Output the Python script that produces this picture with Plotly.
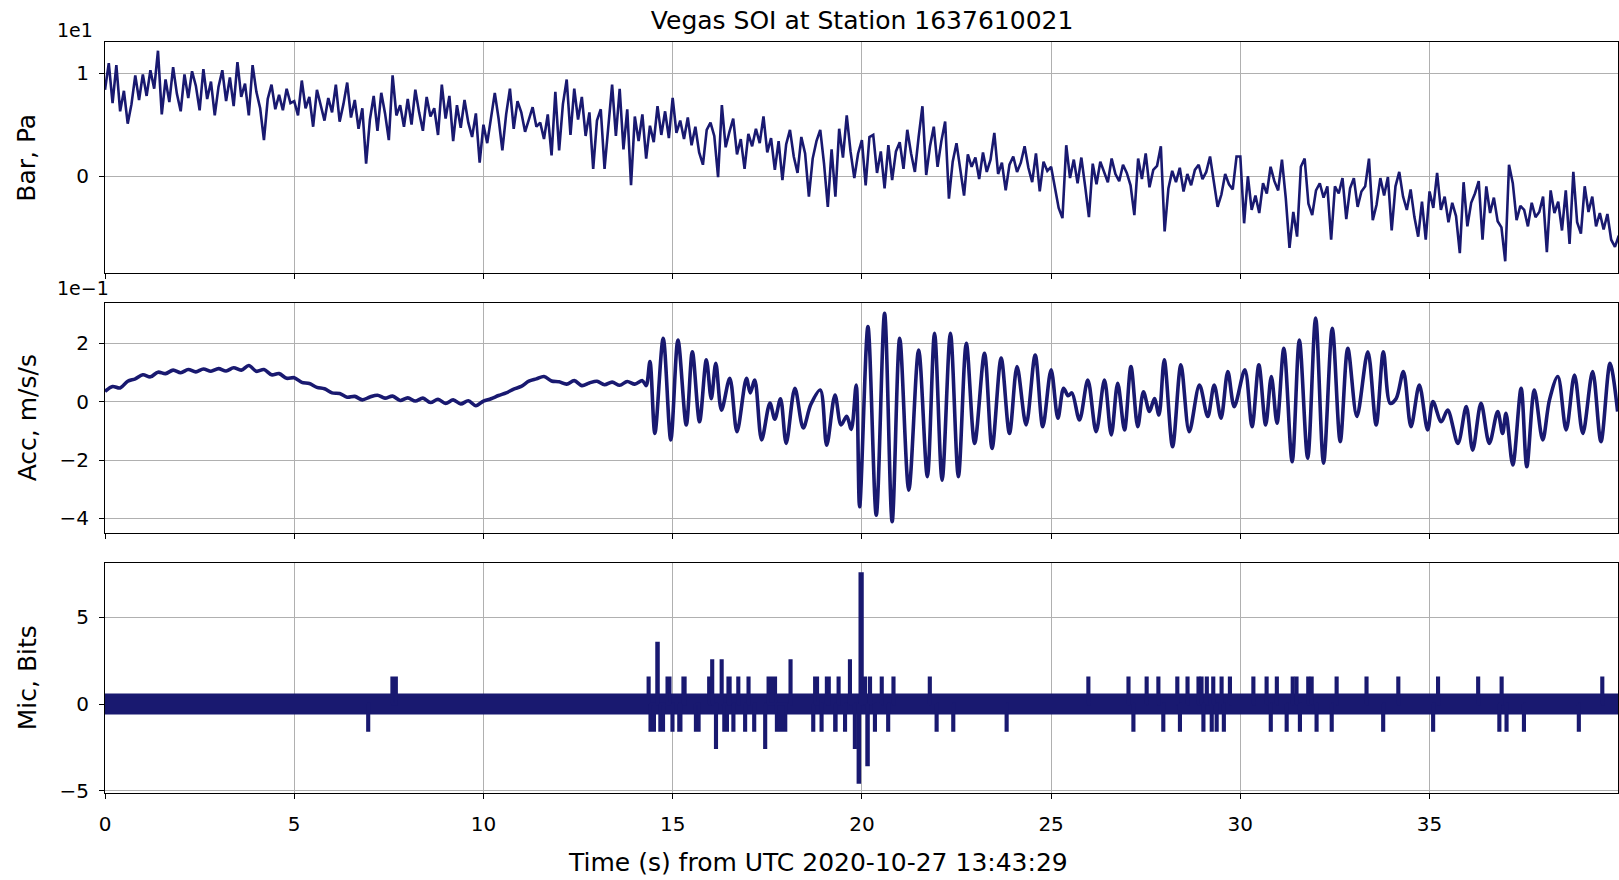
import plotly.graph_objects as go

NAVY = "#191970"
FONT = "DejaVu Sans"

# ---------------- data ----------------
# Barometer, Pa, sampled every 0.1 s from t = 0
bar_dt = 0.1
bar_pa = [
    8.4, 11.0, 7.1, 10.8, 6.3, 8.3, 5.1, 7.0, 9.8, 7.4,
    9.9, 7.8, 10.3, 8.5, 12.2, 6.0, 9.4, 7.2, 10.6, 8.0,
    6.3, 9.9, 7.6, 10.2, 8.8, 6.4, 10.4, 7.5, 9.2, 5.9,
    8.7, 10.3, 7.3, 9.6, 6.8, 11.1, 7.7, 9.0, 5.9, 10.8,
    8.2, 6.6, 3.5, 7.5, 8.9, 6.5, 7.9, 6.4, 8.5, 7.1,
    7.3, 5.9, 9.3, 6.6, 7.7, 4.8, 8.4, 6.9, 5.4, 7.6,
    6.2, 8.9, 5.3, 7.0, 9.1, 5.7, 7.4, 4.6, 6.6, 1.2,
    5.5, 7.8, 4.4, 8.1, 6.1, 3.5, 9.8, 5.9, 6.9, 4.8,
    7.5, 5.0, 8.4, 6.2, 4.4, 7.7, 5.8, 6.6, 4.0, 8.9,
    5.6, 7.8, 3.4, 6.9, 4.7, 7.4, 5.2, 3.8, 6.1, 1.3,
    5.0, 3.2, 5.8, 8.1, 5.6, 2.5, 6.0, 8.5, 4.6, 7.3,
    6.2, 4.3, 5.5, 6.7, 4.8, 5.2, 3.6, 6.0, 2.0, 8.2,
    2.5, 7.0, 9.4, 4.0, 8.5, 5.5, 7.7, 3.9, 6.2, 0.7,
    5.4, 6.5, 0.7, 4.6, 8.9, 3.9, 8.5, 2.6, 6.5, -0.9,
    5.8, 3.4, 6.0, 1.7, 4.9, 3.3, 6.8, 4.0, 6.3, 3.7,
    7.6, 4.2, 5.4, 3.6, 5.7, 3.0, 4.8, 2.3, 1.1, 4.5,
    5.2, 3.9, -0.1, 6.9, 2.8, 4.3, 5.6, 2.1, 3.6, 0.7,
    4.1, 2.9, 4.6, 3.2, 5.8, 2.3, 3.7, 0.6, 3.4, -0.4,
    3.1, 4.5, 1.9, 0.3, 3.8, 2.2, -2.0, 1.7, 3.4, 4.5,
    1.2, -3.0, 2.6, -2.0, 4.6, 1.8, 5.9, 2.4, -0.2, 2.2,
    3.5, -0.9, 3.8, 4.0, 0.3, 2.4, -1.2, 3.0, -0.4, 2.4,
    3.3, 0.7, 4.5, 2.2, 0.4, 3.8, 6.8, 0.1, 2.9, 4.8,
    0.9, 3.4, 5.3, -2.2, 1.4, 3.2, 0.6, -1.9, 2.1, 0.9,
    1.8, -0.3, 2.3, 0.4, 1.6, 4.2, 0.2, 1.3, -1.4, 1.1,
    1.9, 0.4, 1.3, 2.9, 0.8, -0.6, 2.2, -1.5, 1.4, 0.5,
    0.9, -1.2, -3.1, -4.1, 3.0, -0.2, 1.6, -0.7, 1.8, -1.0,
    -4.0, 1.2, -0.8, 1.4, 0.3, -0.6, 1.7, 0.2, -0.5, 1.1,
    0.3, -0.9, -3.8, 1.7, -0.3, 2.2, -1.1, 0.6, 1.0, 2.9,
    -5.4, -1.2, 0.5, -0.6, 0.8, -1.5, 0.2, -0.9, 0.6, 1.1,
    -0.3, 0.4, 1.9, -0.5, -3.0, -1.8, 0.2, -0.8, -1.3, 1.9,
    1.9, -4.6, 0.0, -3.3, -1.9, -3.6, -0.7, -1.7, 0.9, -0.5,
    -1.4, 1.6, -2.1, -7.0, -3.5, -5.9, 0.9, 1.7, -2.7, -3.8,
    -1.4, -0.7, -2.1, -1.0, -6.2, -1.0, -1.7, -0.2, -4.2, -1.2,
    -0.2, -3.0, -1.5, -1.0, 1.7, -4.3, -2.8, -0.2, -1.9, -0.1,
    -5.3, -1.0, 0.4, -2.0, -3.3, -1.3, -4.0, -5.9, -2.5, -6.2,
    -1.5, -3.1, 0.3, -3.3, -2.0, -4.5, -2.6, -3.9, -7.5, -0.6,
    -4.9, -2.6, -1.7, -0.5, -6.2, -1.0, -3.6, -2.1, -4.4, -5.0,
    -8.3, 1.1, -0.7, -4.3, -2.9, -3.3, -4.9, -2.6, -4.0, -3.5,
    -2.0, -7.4, -1.4, -3.6, -2.5, -5.3, -1.4, -6.6, 0.4, -4.5,
    -5.6, -1.0, -3.5, -2.0, -4.9, -3.6, -5.2, -3.7, -6.2, -6.9,
    -5.8,
]
bar_t = [i * bar_dt for i in range(len(bar_pa))]

# Accelerometer, m/s/s (times in s)
acc_t = [
    0.0, 0.2, 0.4, 0.6, 0.8, 1.0, 1.2, 1.4, 1.6, 1.8,
    2.0, 2.2, 2.4, 2.6, 2.8, 3.0, 3.2, 3.4, 3.6, 3.8,
    4.0, 4.2, 4.4, 4.6, 4.8, 5.0, 5.2, 5.4, 5.6, 5.8,
    6.0, 6.2, 6.4, 6.6, 6.8, 7.0, 7.2, 7.4, 7.6, 7.8,
    8.0, 8.2, 8.4, 8.6, 8.8, 9.0, 9.2, 9.4, 9.6, 9.8,
    10.0, 10.2, 10.4, 10.6, 10.8, 11.0, 11.2, 11.4, 11.6, 11.8,
    12.0, 12.2, 12.4, 12.6, 12.8, 13.0, 13.2, 13.4, 13.6, 13.8,
    14.0, 14.2,
    14.30, 14.40, 14.53, 14.75, 14.95, 15.14, 15.36, 15.52, 15.71, 15.89,
    16.02, 16.14, 16.29, 16.51, 16.70, 16.95, 17.05, 17.17, 17.35, 17.57,
    17.70, 17.85, 18.00, 18.23, 18.45, 18.65, 18.90, 19.07, 19.29, 19.45,
    19.60, 19.72, 19.85, 19.94, 20.16, 20.38, 20.60, 20.80, 21.00, 21.24,
    21.50, 21.73, 21.92, 22.12, 22.34, 22.55, 22.76, 22.98, 23.24, 23.44,
    23.68, 23.90, 24.10, 24.34, 24.58, 24.78, 25.00, 25.18, 25.33, 25.45,
    25.55, 25.75, 25.97, 26.19, 26.41, 26.59, 26.76, 26.94, 27.11, 27.29,
    27.44, 27.60, 27.73, 27.85, 27.99, 28.21, 28.43, 28.65, 28.92, 29.14,
    29.31, 29.49, 29.67, 29.84, 30.12, 30.31, 30.49, 30.67, 30.82, 30.97,
    31.15, 31.37, 31.56, 31.78, 31.99, 32.20, 32.43, 32.64, 32.84, 33.08,
    33.37, 33.59, 33.78, 33.96, 34.12, 34.31, 34.51, 34.73, 34.95, 35.09,
    35.31, 35.48, 35.75, 35.97, 36.14, 36.36, 36.58, 36.80, 36.93, 37.02,
    37.20, 37.42, 37.57, 37.77, 37.99, 38.17, 38.39, 38.61, 38.83, 39.05,
    39.31, 39.53, 39.77, 39.97,
]
acc_ms2 = [
    0.035, 0.052, 0.047, 0.070, 0.078, 0.092, 0.085, 0.101, 0.096, 0.108,
    0.099, 0.110, 0.102, 0.112, 0.104, 0.113, 0.105, 0.116, 0.108, 0.124,
    0.104, 0.110, 0.092, 0.096, 0.080, 0.082, 0.066, 0.062, 0.049, 0.044,
    0.030, 0.028, 0.015, 0.018, 0.006, 0.016, 0.022, 0.012, 0.019, 0.004,
    0.013, 0.002, 0.012, -0.003, 0.008, -0.006, 0.006, -0.008, 0.003, -0.014,
    0.002, 0.010, 0.021, 0.030, 0.043, 0.052, 0.070, 0.078, 0.086, 0.071,
    0.068, 0.060, 0.072, 0.055, 0.064, 0.070, 0.058, 0.067, 0.056, 0.069,
    0.060, 0.072,
    0.055, 0.137, -0.109, 0.217, -0.131, 0.211, -0.080, 0.171, -0.069, 0.143,
    0.010, 0.131, -0.029, 0.080, -0.103, 0.080, 0.030, 0.074, -0.131, -0.005,
    -0.060, 0.010, -0.143, 0.046, -0.090, -0.010, 0.040, -0.149, 0.023, -0.080,
    -0.050, -0.095, 0.057, -0.360, 0.257, -0.389, 0.303, -0.411, 0.217, -0.303,
    0.177, -0.257, 0.234, -0.269, 0.234, -0.257, 0.200, -0.143, 0.166, -0.160,
    0.149, -0.109, 0.120, -0.080, 0.160, -0.086, 0.109, -0.057, 0.046, 0.020,
    0.030, -0.063, 0.074, -0.103, 0.074, -0.114, 0.063, -0.097, 0.120, -0.086,
    0.034, -0.034, 0.011, -0.046, 0.143, -0.154, 0.126, -0.103, 0.057, -0.051,
    0.057, -0.057, 0.103, -0.017, 0.109, -0.086, 0.126, -0.080, 0.086, -0.074,
    0.183, -0.206, 0.211, -0.194, 0.286, -0.211, 0.251, -0.137, 0.183, -0.051,
    0.171, -0.080, 0.171, -0.006, 0.011, 0.103, -0.086, 0.057, -0.097, 0.000,
    -0.069, -0.029, -0.143, -0.017, -0.166, -0.006, -0.143, -0.034, -0.109, -0.040,
    -0.217, 0.046, -0.223, 0.040, -0.131, 0.006, 0.086, -0.097, 0.091, -0.109,
    0.103, -0.137, 0.131, -0.034,
]

# Microphone, bits: quantisation band of the idle signal, and excursions from it
mic_band_t = [0.0, 40.0]
mic_band_hi = [0.5, 0.5]
mic_band_lo = [-0.5, -0.5]
mic_spike_t = [
    6.94, 7.58, 14.35, 14.40, 14.58, 14.66, 14.85, 14.98, 15.16, 15.27,
    15.60, 15.95, 16.03, 16.13, 16.28, 16.35, 16.46, 16.59, 16.72, 16.90,
    16.99, 17.14, 17.43, 17.52, 17.74, 18.10, 18.70, 18.75, 18.92, 19.06,
    19.28, 19.37, 19.54, 19.67, 19.80, 19.90, 19.95, 20.07, 20.13, 20.20,
    20.33, 20.51, 20.68, 20.82, 21.78, 21.96, 22.40, 23.81, 25.97,
    27.03, 27.16, 27.51, 27.82, 27.95, 28.32, 28.39, 28.59, 28.88, 28.96,
    29.01, 29.10, 29.23, 29.27, 29.36, 29.49, 29.55, 29.71, 30.33, 30.68,
    30.79, 30.95, 31.21, 31.37, 31.47, 31.56, 31.78, 31.87, 32.00, 32.40,
    32.53, 33.32, 33.76, 34.16, 35.08, 35.21, 36.27, 36.83, 36.89, 37.02,
    37.48, 38.93, 39.55,
]
mic_spike_bits = [
    -1.5, 1.5, 1.5, -1.5, 3.5, -1.5, 1.5, -1.5, -1.5, 1.5,
    -1.5, 1.5, 2.5, -2.5, 2.5, -1.5, 1.5, -1.5, 1.5, -1.5,
    1.5, -1.5, -2.5, 1.5, -1.5, 2.5, -1.5, 1.5, -1.5, 1.5,
    -1.5, 1.5, -1.5, 2.5, -2.5, -4.5, 7.5, 1.5, -3.5, 1.5,
    -1.5, 1.5, -1.5, 1.5, 1.5, -1.5, -1.5, -1.5, 1.5,
    1.5, -1.5, 1.5, 1.5, -1.5, 1.5, -1.5, 1.5, 1.5, 1.5,
    -1.5, 1.5, -1.5, 1.5, -1.5, 1.5, -1.5, 1.5, 1.5, 1.5,
    -1.5, 1.5, -1.5, 1.5, 1.5, -1.5, 1.5, 1.5, -1.5, -1.5,
    1.5, 1.5, -1.5, 1.5, -1.5, 1.5, 1.5, -1.5, 1.5, -1.5,
    -1.5, -1.5, 1.5,
]
mic_spike_dur = [
    0.03, 0.12, 0.03, 0.12, 0.04, 0.10, 0.08, 0.03, 0.06, 0.06,
    0.10, 0.03, 0.03, 0.03, 0.03, 0.10, 0.06, 0.03, 0.03, 0.03,
    0.03, 0.03, 0.03, 0.20, 0.25, 0.03, 0.03, 0.08, 0.03, 0.08,
    0.04, 0.03, 0.03, 0.03, 0.03, 0.04, 0.06, 0.03, 0.04, 0.03,
    0.03, 0.03, 0.03, 0.03, 0.03, 0.03, 0.03, 0.03, 0.03,
    0.03, 0.03, 0.03, 0.03, 0.03, 0.03, 0.03, 0.03, 0.03, 0.03,
    0.03, 0.03, 0.03, 0.03, 0.03, 0.03, 0.03, 0.03, 0.03, 0.03,
    0.03, 0.03, 0.03, 0.03, 0.03, 0.03, 0.03, 0.03, 0.03, 0.03,
    0.03, 0.03, 0.03, 0.03, 0.03, 0.03, 0.03, 0.03, 0.03, 0.03,
    0.03, 0.03, 0.03,
]

title_text = "Vegas SOI at Station 1637610021"
xlabel_text = "Time (s) from UTC 2020-10-27 13:43:29"
ylabels = ["Bar, Pa", "Acc, m/s/s", "Mic, Bits"]
x_ticks = [0, 5, 10, 15, 20, 25, 30, 35]

# ---------------- figure ----------------
fig = go.Figure()

fig.add_trace(go.Scatter(x=bar_t, y=bar_pa, mode="lines",
                         line=dict(color=NAVY, width=2.6),
                         xaxis="x", yaxis="y", hoverinfo="skip"))

fig.add_trace(go.Scatter(x=acc_t, y=acc_ms2, mode="lines",
                         line=dict(color=NAVY, width=3.6, shape="spline", smoothing=0.9),
                         xaxis="x2", yaxis="y2", hoverinfo="skip"))

band_x = mic_band_t + mic_band_t[::-1]
band_y = mic_band_hi + mic_band_lo[::-1]
fig.add_trace(go.Scatter(x=band_x, y=band_y, mode="lines", fill="toself",
                         fillcolor=NAVY, line=dict(color=NAVY, width=3.6),
                         xaxis="x3", yaxis="y3", hoverinfo="skip"))

sx, sy = [], []
for t, b, d in zip(mic_spike_t, mic_spike_bits, mic_spike_dur):
    sx += [t, t, t + d, t + d, t, None]
    sy += [0, b, b, 0, 0, None]
fig.add_trace(go.Scatter(x=sx, y=sy, mode="lines", fill="toself", fillcolor=NAVY,
                         line=dict(color=NAVY, width=3),
                         xaxis="x3", yaxis="y3", hoverinfo="skip"))

axis_common = dict(
    showline=True, linecolor="black", linewidth=1.2, mirror=True,
    ticks="outside", ticklen=5, tickwidth=1.2, tickcolor="black",
    showgrid=True, gridcolor="#b0b0b0", gridwidth=1, zeroline=False,
    tickfont=dict(family=FONT, size=20, color="black"),
)

xr = [0, 39.98]
fig.update_layout(
    xaxis=dict(axis_common, domain=[0, 1], range=xr, anchor="y", tickvals=x_ticks, showticklabels=False),
    xaxis2=dict(axis_common, domain=[0, 1], range=xr, anchor="y2", tickvals=x_ticks, showticklabels=False),
    xaxis3=dict(axis_common, domain=[0, 1], range=xr, anchor="y3", tickvals=x_ticks,
                ticktext=[str(v) for v in x_ticks], ticklabelstandoff=8),
    yaxis=dict(axis_common, domain=[0.692, 1.0], range=[-9.47, 13.05], anchor="x",
               tickvals=[0, 10], ticktext=["0", "1"], ticklabelstandoff=6),
    yaxis2=dict(axis_common, domain=[0.3458, 0.6521], range=[-0.451, 0.337], anchor="x2",
                tickvals=[-0.4, -0.2, 0, 0.2], ticktext=["\u22124", "\u22122", "0", "2"], ticklabelstandoff=6),
    yaxis3=dict(axis_common, domain=[0.0, 0.3059], range=[-5.12, 8.11], anchor="x3",
                tickvals=[-5, 0, 5], ticktext=["\u22125", "0", "5"], ticklabelstandoff=6),
)

ann = []
label_y = [(0.692 + 1.0) / 2, (0.3458 + 0.6521) / 2, 0.3059 / 2]
for txt, yc in zip(ylabels, label_y):
    ann.append(dict(text=txt, x=-0.0515, y=yc, xref="paper", yref="paper",
                    xanchor="center", yanchor="middle", textangle=-90, showarrow=False,
                    font=dict(family=FONT, size=25, color="black")))
ann.append(dict(text=xlabel_text, x=0.471, y=-0.0932, xref="paper", yref="paper",
                xanchor="center", yanchor="middle", showarrow=False,
                font=dict(family=FONT, size=25, color="black")))
ann.append(dict(text="1e1", x=-0.033, y=1.016, xref="paper", yref="paper",
                xanchor="left", yanchor="middle", showarrow=False,
                font=dict(family=FONT, size=19, color="black")))
ann.append(dict(text="1e\u22121", x=-0.033, y=0.6724, xref="paper", yref="paper",
                xanchor="left", yanchor="middle", showarrow=False,
                font=dict(family=FONT, size=19, color="black")))

fig.update_layout(
    width=1619, height=880, autosize=False,
    margin=dict(l=105, r=1, t=42, b=87),
    paper_bgcolor="white", plot_bgcolor="white",
    showlegend=False,
    title=dict(text=title_text, x=0.5325, xanchor="center", y=0.9766, yanchor="middle",
               yref="container", font=dict(family=FONT, size=25, color="black")),
    annotations=ann,
)

fig.write_html("out.html", config={"displayModeBar": False},
               post_script="document.body.style.margin='0';document.body.style.overflow='hidden';")
